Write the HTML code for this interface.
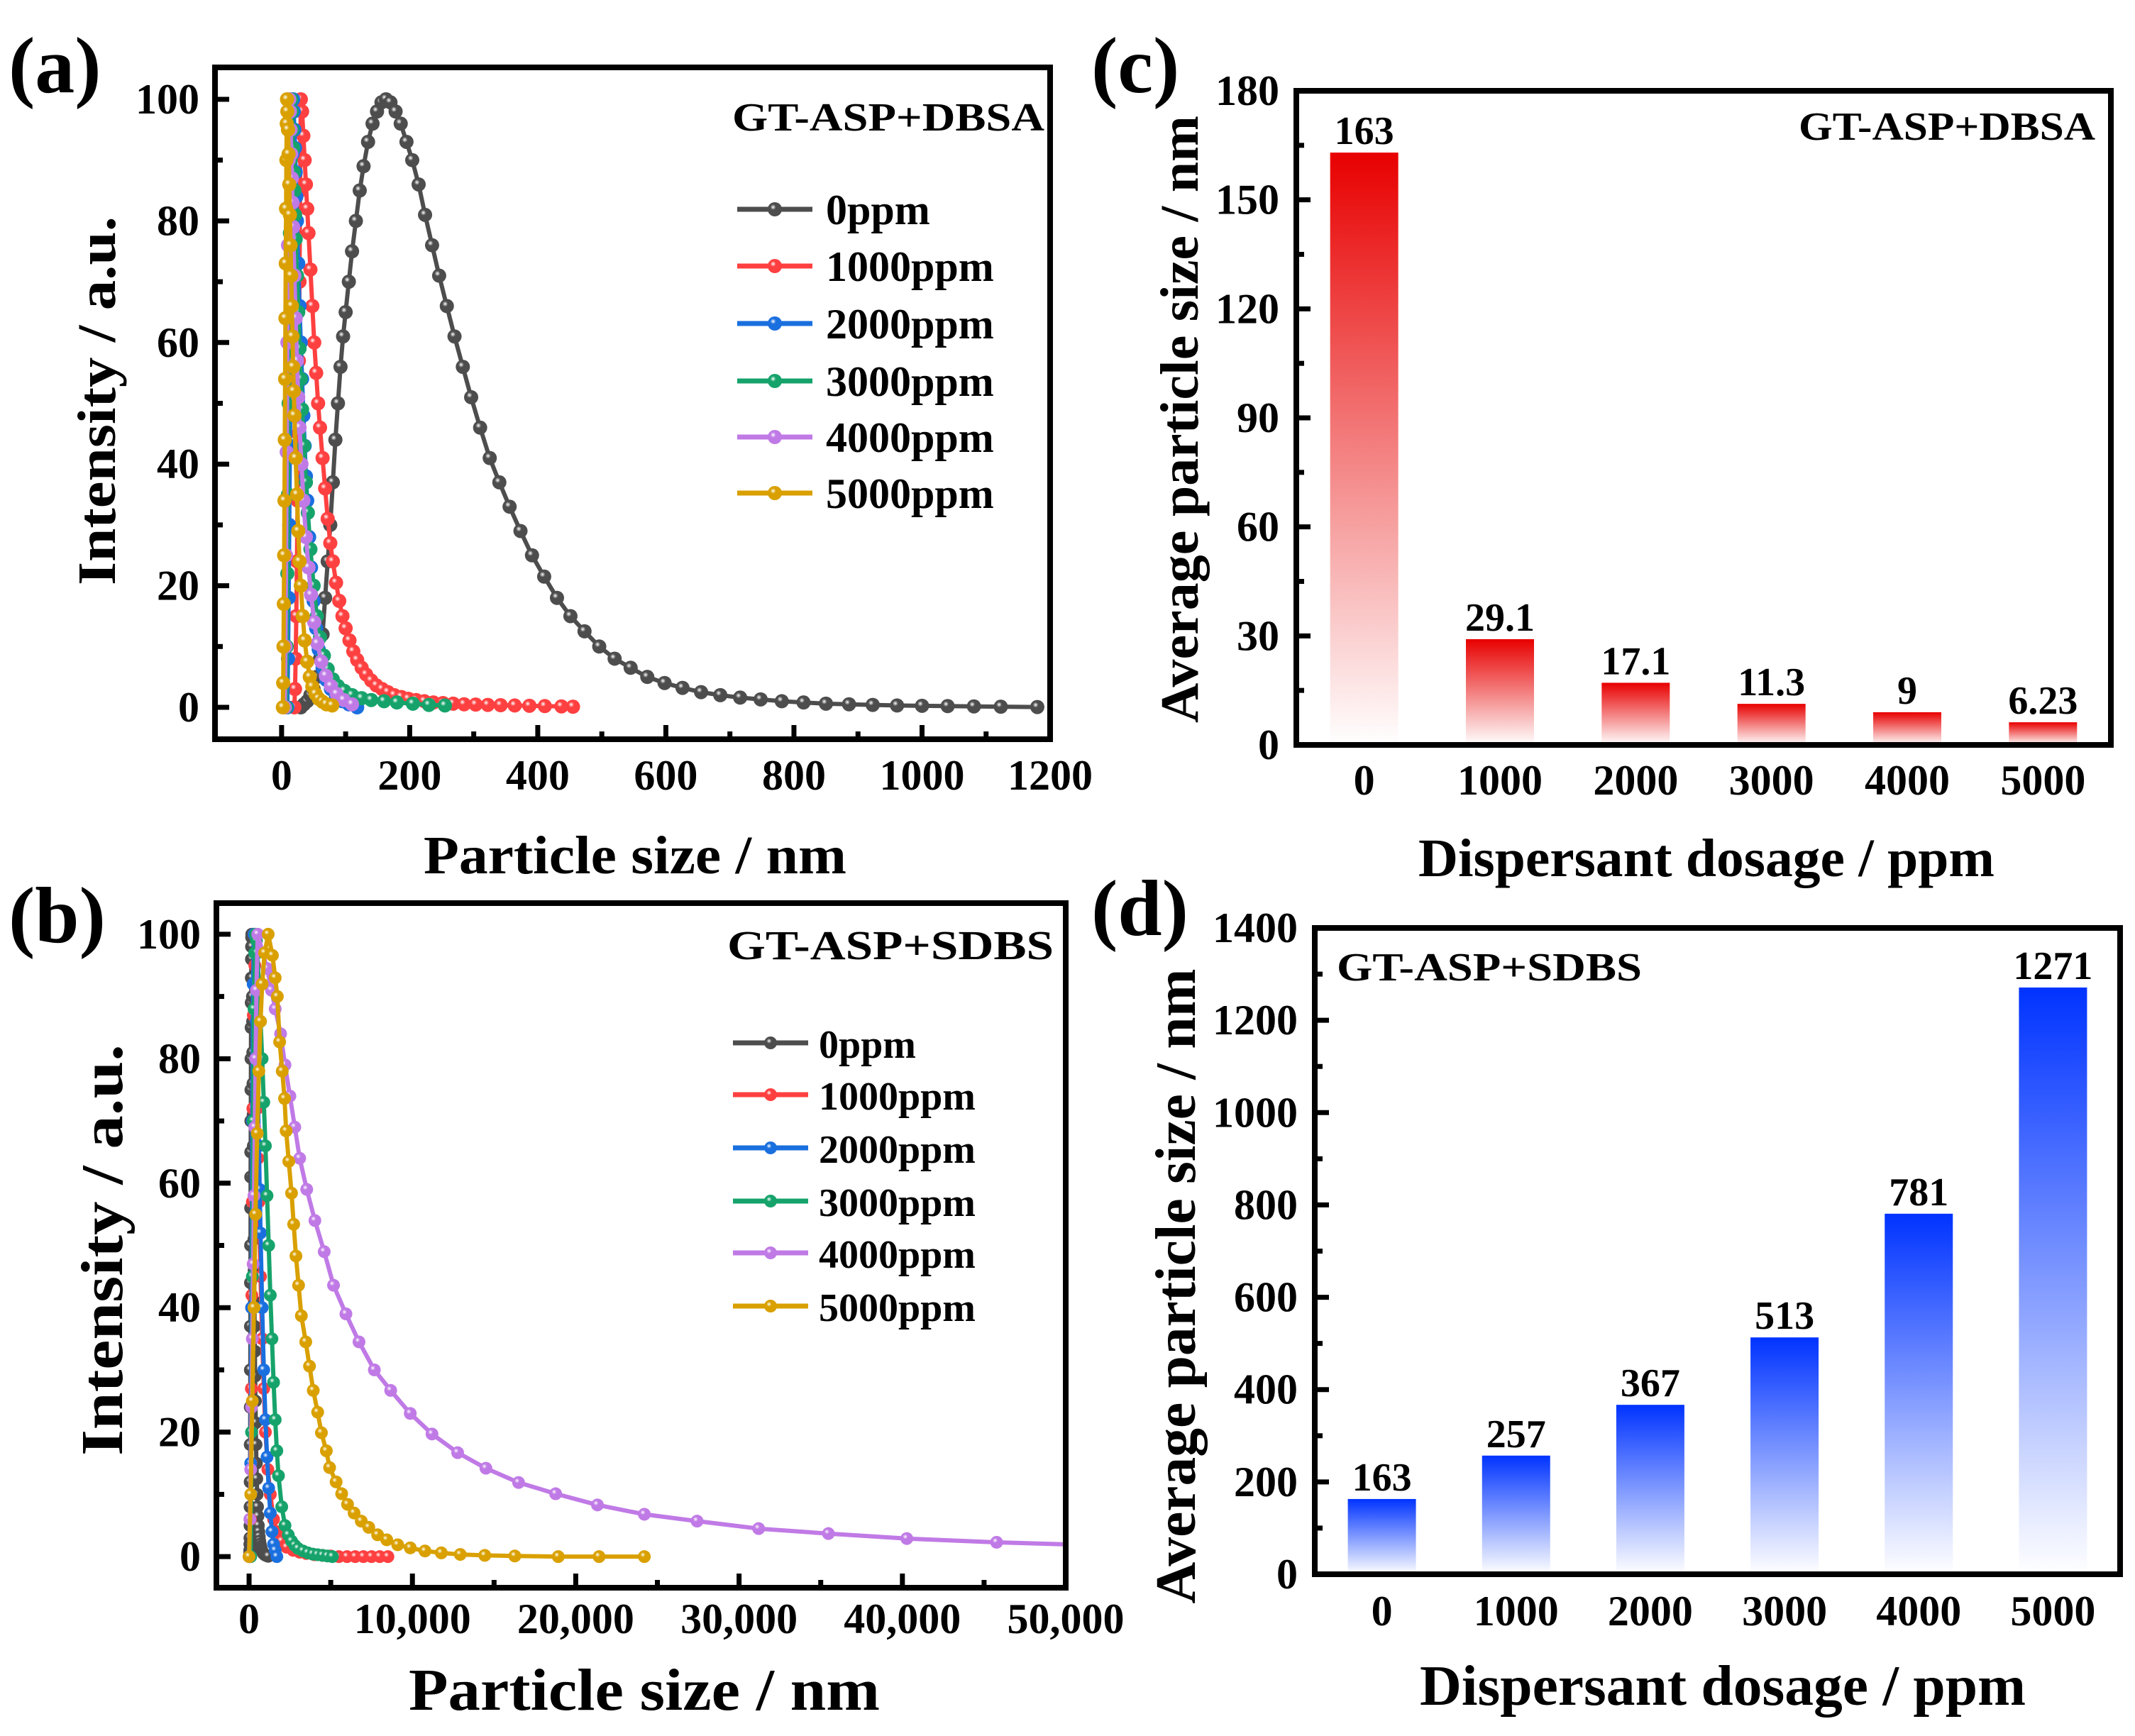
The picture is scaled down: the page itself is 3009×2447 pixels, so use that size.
<!DOCTYPE html>
<html><head><meta charset="utf-8"><style>
html,body{margin:0;padding:0;background:#fff}
svg{display:block}
text{font-family:"Liberation Serif",serif;font-weight:bold;fill:#000}
</style></head><body>
<svg id="fig" width="3009" height="2447" viewBox="0 0 3009 2447" xmlns="http://www.w3.org/2000/svg">
<defs id="defs"></defs>
</svg>
<script>
// ---------- DATA ----------
const seriesNames = ["0ppm","1000ppm","2000ppm","3000ppm","4000ppm","5000ppm"];
const seriesColors = ["#4d4d4d","#ff4040","#1a6fdf","#16a36b","#c07ae6","#d9a000"];
// panel (a) GT-ASP+DBSA
const aX0 = [30,35,40,45,50,55,60,64,68,72,76,80,84,88,92,96,100,105,110,116,122,128,135,142,149,156,163,170,178,186,195,204,214,224,235,246,258,270,283,296,310,325,340,356,373,391,410,430,451,473,496,520,545,571,598,626,655,685,716,748,781,815,850,886,923,961,1000,1040,1081,1123,1180];
const aY0 = [0,0.5,1,2,3,5,8,12,18,24,30,37,44,50,56,61,65,70,75,80,85,89,93,96,98,99.5,100,99.5,98,96,93,90,86,81,76,71,66,61,56,51,46,41,37,33,29,25,21.5,18,15,12.5,10,8,6.5,5,4,3.2,2.5,2,1.6,1.3,1,0.8,0.6,0.5,0.4,0.3,0.25,0.2,0.15,0.1,0.05];
const aX1 = [20,21,22,23,24,25,26,27,28,29,30,32,34,36,38,40,42,45,48,51,54,57,60,64,68,72,76,80,85,90,95,100,106,112,118,125,132,140,148,157,166,176,187,198,210,223,237,252,268,285,303,322,342,364,387,411,437,455];
const aY1 = [0,3,8,15,24,34,45,57,70,85,100,98,94,90,86,82,78,72,66,60,55,50,46,41,36,31,27,24,20.5,17.5,15,13,11,9.2,7.8,6.5,5.4,4.4,3.6,3,2.5,2,1.7,1.4,1.2,1,0.8,0.7,0.6,0.5,0.45,0.4,0.35,0.3,0.25,0.2,0.15,0.1];
const aX2 = [9,10,11,12,13,14,15,16,17,18,19,20,21,22,23,24,26,28,30,32,34,36,38,40,43,46,50,54,58,64,70,77,85,95,105,118];
const aY2 = [0,8,18,30,43,56,68,80,91,100,98,95,92,88,84,80,73,66,60,54,48,43,38,34,28,23,17.5,13,9.5,6.5,4.5,3,1.8,1,0.5,0];
const aX3 = [7,8,9,10,11,12,13,14,15,16,17,18,19,20,21,22,24,26,28,30,32,35,38,41,45,50,55,60,66,72,80,88,98,110,125,140,160,180,205,230,255];
const aY3 = [0,10,22,35,50,64,78,90,100,98,95,92,88,85,81,77,71,65,59,54,49,43,37,32,26,20,15,11.5,8.5,6.3,4.6,3.5,2.7,2,1.5,1.2,1,0.8,0.6,0.4,0.3];
const aX4 = [5,6,7,8,9,10,11,12,13,14,15,16,17,18,20,22,24,26,28,31,34,38,42,46,51,56,62,69,77,86,97,110];
const aY4 = [0,10,25,42,60,76,90,100,98,95,91,87,83,79,71,64,57,51,46,40,34,28,23,18.5,14,10.5,7.5,5.2,3.5,2.2,1.2,0.5];
const aX5 = [2,2.5,3,3.5,4,4.5,5,5.5,6,6.5,7,7.5,8,8.5,9,10,11,12,13,14,15,16,17,18,19,20,22,24,26,28,30,33,36,40,44,48,53,58,64,70,79];
const aY5 = [0,4,10,17,25,34,44,54,64,73,82,90,96,100,98,95,91,86,81,76,71,66,61,56,52,48,41,35,29,24,20,15,11,7.5,5,3.4,2.2,1.4,0.9,0.5,0.3];
// panel (b) GT-ASP+SDBS
const bX1 = [50,80,110,140,170,200,230,260,300,350,400,450,500,550,600,700,800,900,1000,1150,1300,1500,1700,2000,2300,2700,3100,3500,4000,4500,5000,5500,6000,6500,7000,7500,8000,8500];
const bY1 = [0,6,15,27,42,57,72,87,100,95,88,80,72,64,57,45,35,27,20,14,10,6,4,2.5,1.5,1,0.7,0.5,0.3,0.2,0.1,0,0,0,0,0,0,0];
const bX2 = [50,100,150,200,250,300,350,400,450,500,550,600,650,700,800,900,1000,1100,1200,1300,1400,1500,1600,1700];
const bY2 = [0,15,40,70,92,100,97,92,86,80,73,66,59,52,40,30,22,16,11,7,4,2,1,0];
const bX3 = [100,150,200,250,300,350,400,450,500,600,700,800,900,1000,1100,1200,1300,1400,1500,1600,1700,1800,2000,2200,2400,2600,2800,3000,3300,3600,3900,4200,4500,4800,5100];
const bY3 = [0,20,45,70,88,97,100,99,97,92,86,80,73,66,58,50,42,35,28,22,17,13,8,5,3.5,2.5,1.8,1.3,0.9,0.6,0.4,0.3,0.2,0.1,0];
const bX4 = [0,50,100,150,200,250,300,350,400,450,530,1100,1370,1600,1930,2200,2500,2800,3100,3530,4030,4600,5170,5930,6730,7670,8670,9870,11200,12770,14500,16500,18770,21330,24200,27430,31200,35470,40270,45770,52000];
const bY4 = [0,6,14,24,35,47,58,69,80,91,100,94.5,91,88,84,79,74,69,64,59,54,49,43.6,39,34.5,30,26.7,23,19.7,16.7,14.2,11.9,10.1,8.3,6.8,5.7,4.5,3.7,2.9,2.3,1.8];
const bX5 = [0,100,200,300,400,500,600,700,800,950,1170,1430,1600,1730,1870,2030,2170,2270,2430,2600,2730,2870,3030,3200,3470,3700,3930,4200,4430,4730,4930,5330,5670,6030,6430,6870,7330,7870,8430,9100,9870,10770,11770,12930,14430,16270,18930,21430,24200];
const bY5 = [0,10,25,40,55,68,78,86,92,97,100,96.6,93,90,82.7,78,73.6,68.4,63.5,58.4,53.4,48.3,43.6,38.7,34.5,30.6,26.7,23.2,19.9,17,14.3,12,10.1,8.4,7,5.7,4.7,3.5,2.7,1.9,1.4,0.9,0.6,0.35,0.2,0.1,0,0,0];
// bar charts
const barCats = ["0","1000","2000","3000","4000","5000"];
const cValues = [163,29.1,17.1,11.3,9,6.23];
const cLabels = ["163","29.1","17.1","11.3","9","6.23"];
const dValues = [163,257,367,513,781,1271];
const dLabels = ["163","257","367","513","781","1271"];
const aXTicks = [0,200,400,600,800,1000,1200];
const bXTicks = [0,10000,20000,30000,40000,50000];
const bXTickLabels = ["0","10,000","20,000","30,000","40,000","50,000"];
const lineYTicks = [0,20,40,60,80,100];
const cYTicks = [0,30,60,90,120,150,180];
const dYTicks = [0,200,400,600,800,1000,1200,1400];

// ---------- helpers ----------
const NS="http://www.w3.org/2000/svg";
const svg=document.getElementById('fig');
const defs=document.getElementById('defs');
function mk(tag,attrs,parent){const e=document.createElementNS(NS,tag);for(const k in attrs)e.setAttribute(k,attrs[k]);(parent||svg).appendChild(e);return e;}
function txt(s,attrs,parent){const e=mk('text',attrs,parent);e.textContent=s;return e;}
function lin(d0,d1,p0,p1){return v=>p0+(v-d0)*(p1-p0)/(d1-d0);}

seriesColors.forEach((c,i)=>{
  const g=mk('radialGradient',{id:'sph'+i,cx:'0.38',cy:'0.35',r:'0.65'},defs);
  mk('stop',{offset:'0','stop-color':'#ffffff'},g);
  mk('stop',{offset:'0.3','stop-color':c},g);
  mk('stop',{offset:'1','stop-color':c},g);
});
const rg=mk('linearGradient',{id:'redg',x1:'0',y1:'0',x2:'0',y2:'1'},defs);
mk('stop',{offset:'0','stop-color':'#e80000'},rg);mk('stop',{offset:'1','stop-color':'#ffffff'},rg);
const bg=mk('linearGradient',{id:'blueg',x1:'0',y1:'0',x2:'0',y2:'1'},defs);
mk('stop',{offset:'0','stop-color':'#0033ff'},bg);mk('stop',{offset:'1','stop-color':'#ffffff'},bg);

function frame(L,T,R,B,name){
  const r=mk('rect',{x:L,y:T,width:R-L,height:B-T,fill:'none',stroke:'#000','stroke-width':8});
  
  
}
function tickY(L,y,len){mk('line',{x1:L,y1:y,x2:L+len,y2:y,stroke:'#000','stroke-width':7});}
function tickX(x,B,len){mk('line',{x1:x,y1:B,x2:x,y2:B-len,stroke:'#000','stroke-width':7});}

function linePanel(P){
  const sx=lin(P.xmin,P.xmax,P.L,P.R), sy=lin(P.ymin,P.ymax,P.B,P.T);
  const cid='clip'+P.id;
  const cp=mk('clipPath',{id:cid},defs);
  mk('rect',{x:P.L,y:P.T,width:P.R-P.L,height:P.B-P.T},cp);
  const g=mk('g',{'clip-path':'url(#'+cid+')'});
  
  
  P.series.forEach((s,i)=>{
    const xs=s[0], ys=s[1];
    const sg=mk('g',{},g);
    
    
    const pts=xs.map((x,j)=>sx(x).toFixed(1)+','+sy(ys[j]).toFixed(1)).join(' ');
    mk('polyline',{points:pts,fill:'none',stroke:seriesColors[i],'stroke-width':6,'stroke-linejoin':'round'},sg);
    xs.forEach((x,j)=>{
      const c=mk('circle',{cx:sx(x),cy:sy(ys[j]),r:P.mr,fill:'url(#sph'+i+')'},sg);
      
      
    });
  });
  frame(P.L,P.T,P.R,P.B,P.id+'-frame');
  P.xticks.forEach((v,i)=>{
    const x=sx(v); tickX(x,P.B,20);
    const t=txt(P.xlabels[i],{x:x,y:P.B+P.xlOff,'font-size':60,'text-anchor':'middle'});
    
    
  });
  for(let k=0;k<P.xticks.length-1;k++){tickX(sx((P.xticks[k]+P.xticks[k+1])/2),P.B,11);}
  P.yticks.forEach((v,i)=>{
    const y=sy(v); tickY(P.L,y,20);
    const t=txt(String(v),{x:P.L-22,y:y+20,'font-size':60,'text-anchor':'end'});
    
    
  });
  for(let k=0;k<P.yticks.length-1;k++){tickY(P.L,sy((P.yticks[k]+P.yticks[k+1])/2),11);}
  const lg=mk('g',{});
  
  
  seriesNames.forEach((n,i)=>{
    const y=P.leg.ys[i];
    const e=mk('g',{},lg);
    
    
    mk('line',{x1:P.leg.x1,y1:y,x2:P.leg.x2,y2:y,stroke:seriesColors[i],'stroke-width':7},e);
    mk('circle',{cx:(P.leg.x1+P.leg.x2)/2,cy:y,r:P.mr,fill:'url(#sph'+i+')'},e);
    txt(n,{x:P.leg.tx,y:y+21,'font-size':P.leg.fs},e);
  });
}

function barPanel(P){
  const sy=lin(P.ymin,P.ymax,P.B,P.T);
  const sx=lin(-0.5,5.5,P.L,P.R);
  const g=mk('g',{});
  
  
  P.values.forEach((v,i)=>{
    const cx=sx(i), top=sy(v);
    const r=mk('rect',{x:cx-48,y:top,width:96,height:sy(0)-top,fill:'url(#'+P.grad+')'},g);
    
    
    const t=txt(P.labels[i],{x:cx,y:top-12,'font-size':56,'text-anchor':'middle'},g);
    
    
    const xl=txt(barCats[i],{x:cx,y:P.B+P.xlOff,'font-size':60,'text-anchor':'middle'});
    
    
  });
  frame(P.L,P.T,P.R,P.B,P.id+'-frame');
  P.yticks.forEach(v=>{
    const y=sy(v); tickY(P.L,y,20);
    const t=txt(String(v),{x:P.L-24,y:y+20,'font-size':60,'text-anchor':'end'});
    
    
  });
  for(let k=0;k<P.yticks.length-1;k++){tickY(P.L,sy((P.yticks[k]+P.yticks[k+1])/2),11);}
}

linePanel({id:'panel-a',L:303,R:1480,T:95,B:1042,xmin:-104,xmax:1200,ymin:-5.25,ymax:105.25,mr:10,
  series:[[aX0,aY0],[aX1,aY1],[aX2,aY2],[aX3,aY3],[aX4,aY4],[aX5,aY5]],
  xticks:aXTicks,xlabels:aXTicks.map(String),xlOff:71,yticks:lineYTicks,
  leg:{x1:1039,x2:1145,tx:1164,fs:60,ys:[295,375,456,537,616,695]}});
linePanel({id:'panel-b',L:305,R:1502,T:1273,B:2238,xmin:-2000,xmax:50000,ymin:-5,ymax:105,mr:9,
  series:[[aX0,aY0],[bX1,bY1],[bX2,bY2],[bX3,bY3],[bX4,bY4],[bX5,bY5]],
  xticks:bXTicks,xlabels:bXTickLabels,xlOff:64,yticks:lineYTicks,
  leg:{x1:1033,x2:1139,tx:1154,fs:56,ys:[1470,1543,1618,1693,1766,1841]}});
barPanel({id:'panel-c',L:1827,R:2975,T:128,B:1050,ymin:0,ymax:180,values:cValues,labels:cLabels,grad:'redg',yticks:cYTicks,xlOff:70});
barPanel({id:'panel-d',L:1853,R:2988,T:1308,B:2219,ymin:0,ymax:1400,values:dValues,labels:dLabels,grad:'blueg',yticks:dYTicks,xlOff:72});
</script>
<svg style="position:absolute;left:0;top:0" width="3009" height="2447" viewBox="0 0 3009 2447" xmlns="http://www.w3.org/2000/svg">
<g font-family="Liberation Serif, serif" font-weight="bold">
<text x="12" y="130" font-size="112">(a)</text>
<text x="12" y="1328" font-size="112">(b)</text>
<text x="1538" y="130" font-size="112">(c)</text>
<text x="1538" y="1318" font-size="112">(d)</text>
<text x="1472" y="184" font-size="56" text-anchor="end" textLength="440" lengthAdjust="spacingAndGlyphs">GT-ASP+DBSA</text>
<text x="1485" y="1352" font-size="58" text-anchor="end" textLength="460" lengthAdjust="spacingAndGlyphs">GT-ASP+SDBS</text>
<text x="2953" y="197" font-size="56" text-anchor="end" textLength="418" lengthAdjust="spacingAndGlyphs">GT-ASP+DBSA</text>
<text x="1884" y="1382" font-size="56" textLength="430" lengthAdjust="spacingAndGlyphs">GT-ASP+SDBS</text>
<text x="895" y="1231" font-size="76" text-anchor="middle" textLength="596" lengthAdjust="spacingAndGlyphs">Particle size / nm</text>
<text x="908" y="2410" font-size="84" text-anchor="middle" textLength="664" lengthAdjust="spacingAndGlyphs">Particle size / nm</text>
<text x="2405" y="1235" font-size="76" text-anchor="middle" textLength="812" lengthAdjust="spacingAndGlyphs">Dispersant dosage / ppm</text>
<text x="2428" y="2403" font-size="80" text-anchor="middle" textLength="854" lengthAdjust="spacingAndGlyphs">Dispersant dosage / ppm</text>
<text transform="translate(162,565) rotate(-90)" font-size="76" text-anchor="middle" textLength="520" lengthAdjust="spacingAndGlyphs">Intensity / a.u.</text>
<text transform="translate(172,1762) rotate(-90)" font-size="84" text-anchor="middle" textLength="580" lengthAdjust="spacingAndGlyphs">Intensity / a.u.</text>
<text transform="translate(1688,591) rotate(-90)" font-size="76" text-anchor="middle" textLength="856" lengthAdjust="spacingAndGlyphs">Average particle size / nm</text>
<text transform="translate(1684,1813) rotate(-90)" font-size="80" text-anchor="middle" textLength="895" lengthAdjust="spacingAndGlyphs">Average particle size / nm</text>
</g>
</svg>
</body></html>
